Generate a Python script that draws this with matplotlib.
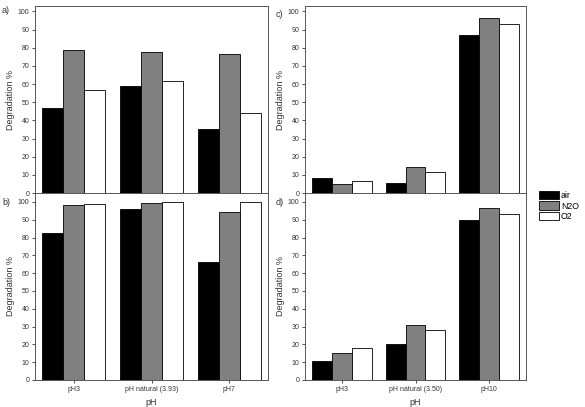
import numpy as np
import matplotlib
matplotlib.use("Agg")
import matplotlib.pyplot as plt
from matplotlib.patches import Patch

plt.rcParams['font.family'] = ['Liberation Sans', 'DejaVu Sans']

# data
series = ['air', 'N2O', 'O2']
colors = ['black', '#808080', 'white']

cats_left = ['pH3', 'pH natural (3.93)', 'pH7']
cats_right = ['pH3', 'pH natural (3.50)', 'pH10']

a_air = [47, 59, 35.5]
a_n2o = [78.5, 77.5, 76.5]
a_o2 = [57, 61.5, 44]

b_air = [82.5, 96, 66]
b_n2o = [98.5, 99.5, 94.5]
b_o2 = [99, 100, 100]

c_air = [8, 5.5, 87]
c_n2o = [5, 14.5, 96.5]
c_o2 = [6.5, 11.5, 93]

d_air = [10.5, 20, 90]
d_n2o = [15, 31, 96.5]
d_o2 = [18, 28, 93]

W, H = 585, 407
fig = plt.figure(figsize=(W / 100, H / 100), dpi=100)


def px_axes(x0, x1, y0, y1):
    return fig.add_axes([x0 / W, (H - y1) / H, (x1 - x0) / W, (y1 - y0) / H])


def draw(ax, cats, vals, ytop, show_x):
    x = np.arange(len(cats))
    bw = 0.27
    for i, (v, c) in enumerate(zip(vals, colors)):
        ax.bar(x + (i - 1) * bw, v, bw, color=c, edgecolor='black', linewidth=0.6)
    ax.set_xlim(-0.5, 2.5)
    ax.set_ylim(0, ytop)
    ax.set_yticks(np.arange(0, 101, 10))
    ax.set_xticks(x)
    ax.tick_params(axis='both', labelsize=5, length=2.5, width=0.6, pad=1.5, colors='#333333')
    if show_x:
        ax.set_xticklabels(cats)
        ax.set_xlabel('pH', fontsize=6.5, labelpad=4, color='#333333')
    else:
        ax.set_xticklabels([])
        ax.tick_params(axis='x', length=0)
    ax.set_ylabel('Degradation %', fontsize=6.5, labelpad=2, color='#333333')
    for s in ax.spines.values():
        s.set_linewidth(0.7)
        s.set_color('#555555')


axa = px_axes(35, 268, 6, 193)
axb = px_axes(35, 268, 193, 380)
axc = px_axes(305, 526, 6, 193)
axd = px_axes(305, 526, 193, 380)

draw(axa, cats_left, [a_air, a_n2o, a_o2], 103, False)
draw(axb, cats_left, [b_air, b_n2o, b_o2], 105, True)
draw(axc, cats_right, [c_air, c_n2o, c_o2], 103, False)
draw(axd, cats_right, [d_air, d_n2o, d_o2], 105, True)

fig.text(2 / W, 1 - 13 / H, 'a)', fontsize=6.5, color='#333333')
fig.text(2 / W, 1 - 205 / H, 'b)', fontsize=6.5, color='#333333')
fig.text(276 / W, 1 - 17 / H, 'c)', fontsize=6.5, color='#333333')
fig.text(276 / W, 1 - 205 / H, 'd)', fontsize=6.5, color='#333333')

handles = [Patch(facecolor=c, edgecolor='black', linewidth=0.6, label=s)
           for s, c in zip(series, colors)]
fig.legend(handles=handles, loc='upper left', bbox_to_anchor=(539 / W, 1 - 191 / H),
           frameon=False, fontsize=6.3, handlelength=2.3, handleheight=1.1,
           handletextpad=0.2, labelspacing=0.15, borderpad=0, borderaxespad=0)

fig.savefig('out.png', dpi=100)
